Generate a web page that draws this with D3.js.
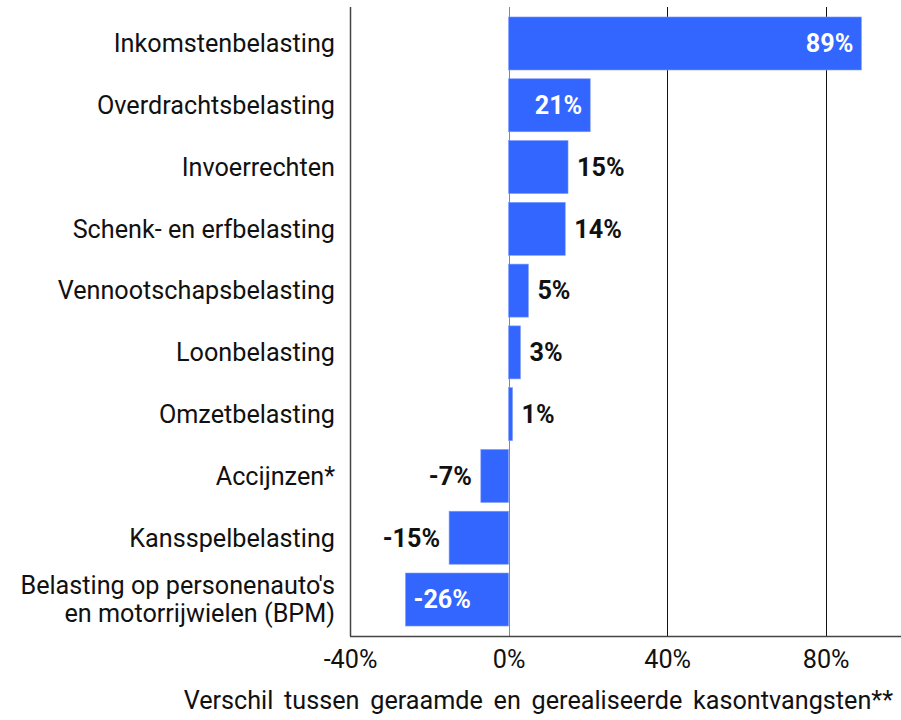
<!DOCTYPE html>
<html>
<head>
<meta charset="utf-8">
<script src="https://cdn.jsdelivr.net/npm/d3@7"></script>
<style>
  body { margin: 0; background: #fff; }
  text { font-family: Roboto, "Noto Sans", sans-serif; }
</style>
</head>
<body>
<div id="chart"></div>
<script>
// categorieen en waarden (verschil in %)
const categories = [
  "Inkomstenbelasting",
  "Overdrachtsbelasting",
  "Invoerrechten",
  "Schenk- en erfbelasting",
  "Vennootschapsbelasting",
  "Loonbelasting",
  "Omzetbelasting",
  "Accijnzen*",
  "Kansspelbelasting",
  "Belasting op personenauto's\nen motorrijwielen (BPM)"
];
const values = [89, 20.6, 15, 14.3, 5, 3, 1, -7, -15, -26];
const labelsInside = [true, true, false, false, false, false, false, false, false, true];
const tickValues = [-40, 0, 40, 80];
const axisTitle = "Verschil tussen geraamde en gerealiseerde kasontvangsten**";

const width = 901, height = 720;
const margin = { top: 7, right: 0, bottom: 84, left: 350 };
const fs = 25.2;

const svg = d3.select("#chart").append("svg")
  .attr("width", width)
  .attr("height", height);

const x = d3.scaleLinear()
  .domain([-40, 99])
  .range([margin.left, width - margin.right]);

const y = d3.scaleBand()
  .domain(d3.range(categories.length))
  .range([10.8, 632.2])
  .paddingInner(0.142)
  .paddingOuter(0.1);

const bottom = height - margin.bottom;

// rasterlijnen
svg.append("g")
  .selectAll("line")
  .data(tickValues.filter(d => d > -40))
  .join("line")
    .attr("x1", d => Math.round(x(d)) + 0.5)
    .attr("x2", d => Math.round(x(d)) + 0.5)
    .attr("y1", margin.top)
    .attr("y2", bottom)
    .attr("stroke", d => d === 0 ? "#888" : "#111")
    .attr("stroke-width", 1);

// balken
svg.append("g")
  .selectAll("rect")
  .data(values)
  .join("rect")
    .attr("x", d => x(Math.min(0, d)))
    .attr("y", (d, i) => y(i))
    .attr("width", d => Math.abs(x(d) - x(0)))
    .attr("height", y.bandwidth())
    .attr("fill", "#3366ff")
    .attr("stroke", "#7f9cff")
    .attr("stroke-width", 0.6);

// waardelabels
svg.append("g")
  .selectAll("text")
  .data(values)
  .join("text")
    .attr("y", (d, i) => y(i) + y.bandwidth() / 2)
    .attr("dy", "0.35em")
    .attr("font-size", fs)
    .attr("font-weight", 700)
    .attr("fill", (d, i) => labelsInside[i] ? "#fff" : "#111")
    .attr("x", (d, i) => {
      const end = x(d);
      if (labelsInside[i]) return d >= 0 ? end - 8 : end + 8;
      return d >= 0 ? end + 9 : end - 9;
    })
    .attr("text-anchor", (d, i) => (d >= 0) === labelsInside[i] ? "end" : "start")
    .text(d => Math.round(d) + "%");

// categorie labels
const catLabels = svg.append("g")
  .selectAll("text")
  .data(categories)
  .join("text")
    .attr("x", margin.left - 15)
    .attr("y", (d, i) => y(i) + y.bandwidth() / 2)
    .attr("text-anchor", "end")
    .attr("font-size", fs)
    .attr("fill", "#111");

catLabels.each(function(d) {
  const lines = d.split("\n");
  const t = d3.select(this);
  lines.forEach((line, k) => {
    t.append("tspan")
      .attr("x", margin.left - 15)
      .attr("dy", k === 0 ? (0.35 - (lines.length - 1) * 0.55) + "em" : "1.1em")
      .text(line);
  });
});

// assen
svg.append("line")
  .attr("x1", margin.left + 0.5).attr("x2", margin.left + 0.5)
  .attr("y1", margin.top).attr("y2", bottom)
  .attr("stroke", "#444").attr("stroke-width", 1.5);

svg.append("line")
  .attr("x1", margin.left).attr("x2", width)
  .attr("y1", bottom + 0.5).attr("y2", bottom + 0.5)
  .attr("stroke", "#444").attr("stroke-width", 1.5);

const xAxis = svg.append("g")
  .attr("transform", `translate(0,${bottom})`)
  .call(d3.axisBottom(x).tickValues(tickValues).tickSize(0).tickPadding(14).tickFormat(d => d + "%"));
xAxis.select(".domain").remove();
xAxis.selectAll("text")
  .attr("font-size", fs)
  .attr("font-family", "Roboto, sans-serif")
  .attr("fill", "#111");

svg.append("text")
  .attr("x", 893)
  .attr("y", 709)
  .attr("text-anchor", "end")
  .attr("font-size", fs)
  .attr("fill", "#111")
  .attr("word-spacing", 4.5)
  .text(axisTitle);
</script>
</body>
</html>
